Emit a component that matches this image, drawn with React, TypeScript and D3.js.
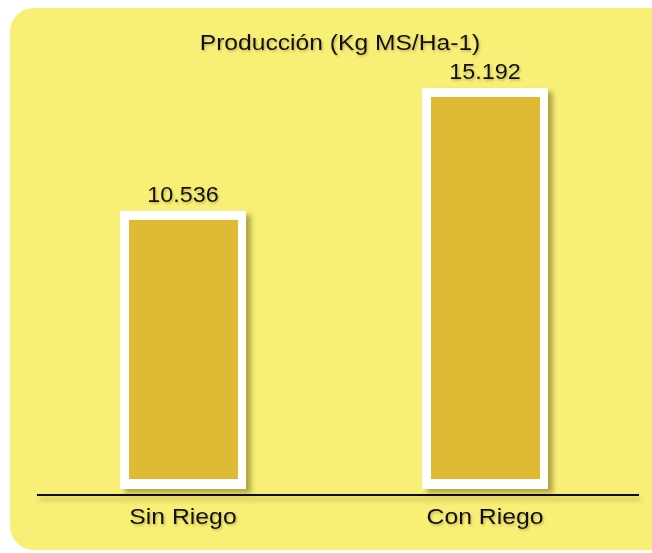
import * as React from 'react'
import * as d3 from 'd3'

const categories = ['Sin Riego', 'Con Riego']
const values = [10.536, 15.192]
const valueLabels = ['10.536', '15.192']
const title = 'Producción (Kg MS/Ha-1)'

const W = 652
const H = 553
const baseY = 489

export default function App() {
  const svgRef = React.useRef<SVGSVGElement>(null)

  React.useEffect(() => {
    if (!svgRef.current) return
    const svg = d3.select(svgRef.current)
    svg.selectAll('*').remove()

    const defs = svg.append('defs')
    const shadow = defs.append('filter').attr('id', 'barShadow').attr('x', '-20%').attr('y', '-20%').attr('width', '150%').attr('height', '150%')
    shadow.append('feDropShadow').attr('dx', 5).attr('dy', 4).attr('stdDeviation', 2.5).attr('flood-color', '#5a4a00').attr('flood-opacity', 0.45)
    const lineShadow = defs.append('filter').attr('id', 'lineShadow')
      .attr('filterUnits', 'userSpaceOnUse')
      .attr('x', 20).attr('y', 480).attr('width', 640).attr('height', 40)
    lineShadow.append('feDropShadow').attr('dx', 2).attr('dy', 4).attr('stdDeviation', 2.5).attr('flood-color', '#5a4a00').attr('flood-opacity', 0.4)
    const textShadow = defs.append('filter').attr('id', 'textShadow')
    textShadow.append('feDropShadow').attr('dx', 1).attr('dy', 1.5).attr('stdDeviation', 1).attr('flood-color', '#6b5a00').attr('flood-opacity', 0.4)

    // background panel
    svg.append('rect')
      .attr('x', 10).attr('y', 8)
      .attr('width', 662).attr('height', 542)
      .attr('rx', 24).attr('ry', 24)
      .attr('fill', '#f8ef77')

    const x = d3.scaleBand<string>().domain(categories).range([32, 636]).padding(0)
    const y = d3.scaleLinear().domain([0, d3.max(values) as number]).range([baseY, 88])
    const barW = x.bandwidth() * 0.417
    const border = 9
    const font = 'Liberation Sans, Arial, sans-serif'

    const bars = svg.append('g')
    categories.forEach((c, i) => {
      const cx = (x(c) as number) + x.bandwidth() / 2
      const top = y(values[i])
      const g = bars.append('g')
      g.append('rect')
        .attr('x', cx - barW / 2).attr('y', top)
        .attr('width', barW).attr('height', baseY - top)
        .attr('fill', '#ffffff')
        .attr('filter', 'url(#barShadow)')
      g.append('rect')
        .attr('x', cx - barW / 2 + border).attr('y', top + border)
        .attr('width', barW - border * 2 + 1).attr('height', baseY - top - border * 2 - 1)
        .attr('fill', '#dfbb35')

      svg.append('text')
        .attr('transform', `translate(${cx},${top - 9}) scale(1.04,1)`)
        .attr('text-anchor', 'middle')
        .attr('font-family', font)
        .attr('font-size', 22.5)
        .attr('fill', '#111')
        .attr('filter', 'url(#textShadow)')
        .text(valueLabels[i])

      svg.append('text')
        .attr('transform', `translate(${cx},524) scale(1.1,1)`)
        .attr('text-anchor', 'middle')
        .attr('font-family', font)
        .attr('font-size', 22.5)
        .attr('fill', '#111')
        .attr('filter', 'url(#textShadow)')
        .text(c)
    })

    // axis line
    svg.append('rect')
      .attr('x', 37).attr('width', 602)
      .attr('y', 494).attr('height', 2)
      .attr('fill', '#111')
      .attr('filter', 'url(#lineShadow)')

    svg.append('text')
      .attr('transform', `translate(340,50) scale(1.12,1)`)
      .attr('text-anchor', 'middle')
      .attr('font-family', font)
      .attr('font-size', 22)
      .attr('fill', '#111')
      .attr('filter', 'url(#textShadow)')
      .text(title)
  }, [])

  return (
    <svg
      ref={svgRef}
      width={W}
      height={H}
      viewBox={`0 0 ${W} ${H}`}
      style={{ position: 'absolute', left: 0, top: 0, display: 'block', background: '#fff' }}
    />
  )
}
